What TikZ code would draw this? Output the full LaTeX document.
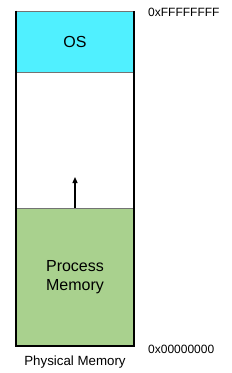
\documentclass[tikz,border=0pt]{standalone}
\usepackage{fontspec}
\setmainfont{Liberation Sans}
\definecolor{oscyan}{HTML}{50F0FF}
\definecolor{procgreen}{HTML}{A9D18E}
\usetikzlibrary{calc, positioning, arrows.meta}

\begin{document}
\begin{tikzpicture}[x=1pt, y=-1pt,
  region/.style={draw=black!55, line width=0.8pt, minimum width=118pt,
                 inner sep=0pt, font=\fontsize{16}{19}\selectfont, align=center},
  addr/.style={anchor=west, inner sep=0pt, font=\fontsize{12}{14}\selectfont},
  frame/.style={line width=2pt, black}
]
\useasboundingbox (0,0) rectangle (232,373);

\node[region, fill=oscyan, minimum height=61pt] (os) at (75,41.5) {OS};
\node[region, fill=white, minimum height=136pt] (free) at (75,140) {};
\node[region, fill=procgreen, minimum height=138pt] (proc) at (75,277) {Process\\Memory};

% outer sides of the memory block
\draw[frame] (os.north west) -- (proc.south west) -- (proc.south east) -- (os.north east);

\coordinate (grow) at (75,177);
\draw[-{Triangle[length=6pt, width=5pt]}, line width=1.3pt] (proc.north) -- (grow);

\node[addr] (top) at (148,12.5) {0xFFFFFFFF};
\node[addr] (bottom) at (148,349.5) {0x00000000};
\node[inner sep=0pt, font=\fontsize{13.3}{15}\selectfont] (label) at (75,362) {Physical Memory};
\end{tikzpicture}
\end{document}
